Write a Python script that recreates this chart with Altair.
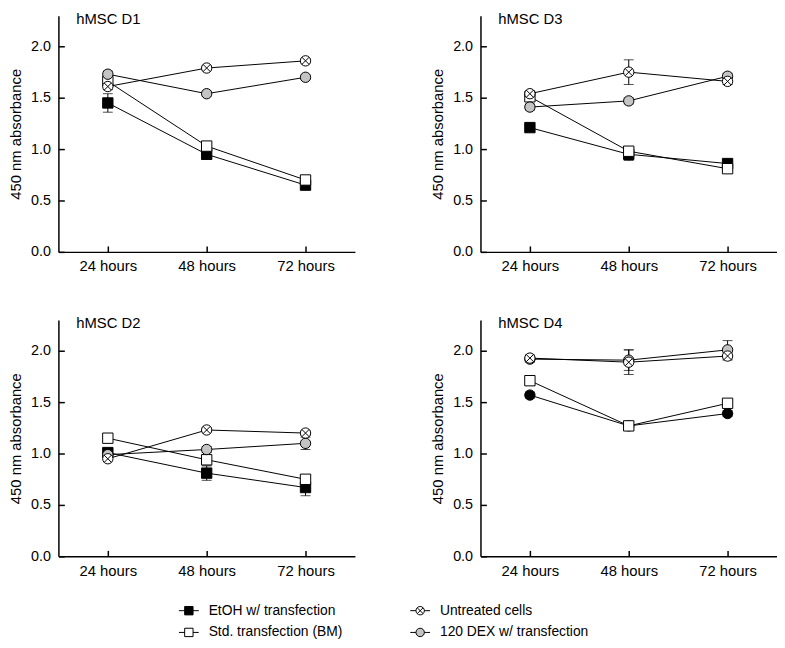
import altair as alt
import pandas as pd

FONT = "Liberation Sans"

times = ["24 hours", "48 hours", "72 hours"]
series = ["EtOH w/ transfection", "Std. transfection (BM)", "Untreated cells", "120 DEX w/ transfection"]
draw_rank = [0, 1, 3, 2]

# hMSC D1
d1_etoh = [1.45, 0.95, 0.65]
d1_std = [1.66, 1.03, 0.70]
d1_untr = [1.61, 1.79, 1.86]
d1_dex = [1.73, 1.54, 1.70]
d1_etoh_err = [0.09, 0.03, 0.03]
d1_std_err = [0.04, 0.03, 0.03]
d1_untr_err = [0.03, 0.02, 0.02]
d1_dex_err = [0.03, 0.02, 0.02]

# hMSC D3
d3_etoh = [1.21, 0.95, 0.86]
d3_std = [1.51, 0.98, 0.81]
d3_untr = [1.54, 1.75, 1.66]
d3_dex = [1.41, 1.47, 1.71]
d3_etoh_err = [0.03, 0.06, 0.03]
d3_std_err = [0.03, 0.04, 0.03]
d3_untr_err = [0.03, 0.12, 0.03]
d3_dex_err = [0.03, 0.03, 0.03]

# hMSC D2
d2_etoh = [1.01, 0.81, 0.67]
d2_std = [1.15, 0.94, 0.75]
d2_untr = [0.95, 1.23, 1.20]
d2_dex = [0.99, 1.04, 1.10]
d2_etoh_err = [0.03, 0.07, 0.08]
d2_std_err = [0.03, 0.05, 0.04]
d2_untr_err = [0.02, 0.02, 0.02]
d2_dex_err = [0.03, 0.03, 0.06]

# hMSC D4
d4_etoh = [1.57, 1.27, 1.39]
d4_std = [1.71, 1.27, 1.49]
d4_untr = [1.93, 1.89, 1.95]
d4_dex = [1.92, 1.91, 2.01]
d4_etoh_err = [0.03, 0.03, 0.03]
d4_std_err = [0.03, 0.03, 0.03]
d4_untr_err = [0.03, 0.12, 0.04]
d4_dex_err = [0.03, 0.10, 0.09]

markers_std = ["sq_black", "sq_white", "xcircle", "circle_gray"]
markers_d4 = ["circle_black", "sq_white", "xcircle", "circle_gray"]

XCIRCLE = ("M-1,0A1,1,0,1,1,1,0A1,1,0,1,1,-1,0Z "
           "M-0.7071,-0.7071L0.7071,0.7071 M-0.7071,0.7071L0.7071,-0.7071")
LINE = "M-1,0L1,0"
kinds = ["sq_black", "sq_white", "xcircle", "circle_gray", "circle_black"]
kind_shapes = ["square", "square", XCIRCLE, "circle", "circle"]
kind_fills = ["black", "white", "white", "#c4c4c4", "black"]
kind_sizes = [110, 110, 150, 150, 150]
legend_sizes = [72, 72, 130, 120, 120]

y_ticks = [0.0, 0.5, 1.0, 1.5, 2.0]
W, H = 300, 239


def panel(name, values, errors, markers):
    rows = []
    for s, vals, errs, mk, z in zip(series, values, errors, markers, draw_rank):
        for t, v, e in zip(times, vals, errs):
            rows.append(dict(series=s, time=t, value=v, lo=v - e, hi=v + e, kind=mk, z=z))
    df = pd.DataFrame(rows)
    base = alt.Chart(df)
    xs = alt.Scale(type="point", domain=times, padding=0.5)
    ys = alt.Scale(domain=[0, 2.3], nice=False, zero=True)

    lines = base.mark_line(color="black", strokeWidth=1).encode(
        x=alt.X("time:N", scale=xs, axis=alt.Axis(
            title=None, labelAngle=0, ticks=False, tickSize=0, labelPadding=7,
            domainColor="black", domainWidth=1.5, labelFontSize=15, labelColor="black",
            labelFont=FONT, grid=False)),
        y=alt.Y("value:Q", scale=ys, axis=alt.Axis(
            values=y_ticks, format=".1f", title="450 nm absorbance", ticks=False, tickSize=0,
            labelPadding=8, domainColor="black", domainWidth=1.5, labelFontSize=14.5,
            labelColor="black", labelFont=FONT, titleFont=FONT, titleFontSize=15,
            titleFontWeight="normal", titleColor="black", titlePadding=7, grid=False)),
        detail="series:N",
    )
    bars = base.mark_rule(color="black", strokeWidth=1).encode(
        x=alt.X("time:N", scale=xs, axis=None),
        y=alt.Y("lo:Q", scale=ys, axis=None),
        y2="hi:Q",
    )
    cap_lo = base.mark_tick(color="black", size=10, thickness=1).encode(
        x=alt.X("time:N", scale=xs, axis=None),
        y=alt.Y("lo:Q", scale=ys, axis=None),
    )
    cap_hi = base.mark_tick(color="black", size=10, thickness=1).encode(
        x=alt.X("time:N", scale=xs, axis=None),
        y=alt.Y("hi:Q", scale=ys, axis=None),
    )
    pts = base.mark_point(filled=False, stroke="black", strokeWidth=1, opacity=1).encode(
        x=alt.X("time:N", scale=xs, axis=alt.Axis(
            orient="top", offset=-H, labels=False, domain=False, ticks=True, tickSize=6,
            tickWidth=1.5, tickColor="black", title=None, grid=False)),
        y=alt.Y("value:Q", scale=ys, axis=alt.Axis(
            orient="right", offset=-W, values=y_ticks, labels=False, domain=False, ticks=True,
            tickSize=6, tickWidth=1.5, tickColor="black", title=None, grid=False)),
        shape=alt.Shape("kind:N", scale=alt.Scale(domain=kinds, range=kind_shapes), legend=None),
        fill=alt.Fill("kind:N", scale=alt.Scale(domain=kinds, range=kind_fills), legend=None),
        size=alt.Size("kind:N", scale=alt.Scale(domain=kinds, range=kind_sizes), legend=None),
        order=alt.Order("z:Q"),
    )
    label = alt.Chart(pd.DataFrame({"label": [name]})).mark_text(
        align="left", baseline="alphabetic", fontSize=15, font=FONT, color="black"
    ).encode(x=alt.value(18), y=alt.value(8.5), text="label:N")
    return alt.layer(lines, bars, cap_lo, cap_hi, pts, label).resolve_axis(
        x="independent", y="independent"
    ).properties(width=W, height=H)


p1 = panel("hMSC D1", [d1_etoh, d1_std, d1_untr, d1_dex],
           [d1_etoh_err, d1_std_err, d1_untr_err, d1_dex_err], markers_std)
p3 = panel("hMSC D3", [d3_etoh, d3_std, d3_untr, d3_dex],
           [d3_etoh_err, d3_std_err, d3_untr_err, d3_dex_err], markers_std)
p2 = panel("hMSC D2", [d2_etoh, d2_std, d2_untr, d2_dex],
           [d2_etoh_err, d2_std_err, d2_untr_err, d2_dex_err], markers_std)
p4 = panel("hMSC D4", [d4_etoh, d4_std, d4_untr, d4_dex],
           [d4_etoh_err, d4_std_err, d4_untr_err, d4_dex_err], markers_d4)

# legend block
leg_cols = [0, 0, 1, 1]
leg_rows = [0, 1, 0, 1]
leg_kinds = ["sq_black", "sq_white", "xcircle", "circle_gray"]
leg_df = pd.DataFrame({"series": series, "col": leg_cols, "row": leg_rows, "lkind": leg_kinds})
lbase = alt.Chart(leg_df)
lx = alt.X("col:Q", scale=alt.Scale(domain=[-0.564, 2.0], nice=False, zero=False), axis=None)
ly = alt.Y("row:Q", scale=alt.Scale(domain=[-0.5, 1.5], nice=False, zero=False, reverse=True), axis=None)
l_line = lbase.mark_point(shape=LINE, size=400, stroke="black", strokeWidth=1, filled=False, opacity=1).encode(x=lx, y=ly)
l_sym = lbase.mark_point(filled=False, stroke="black", strokeWidth=1, opacity=1).encode(
    x=lx, y=ly,
    shape=alt.Shape("lkind:N", scale=alt.Scale(domain=kinds, range=kind_shapes), legend=None),
    fill=alt.Fill("lkind:N", scale=alt.Scale(domain=kinds, range=kind_fills), legend=None),
    size=alt.Size("lkind:N", scale=alt.Scale(domain=kinds, range=legend_sizes), legend=None),
)
l_txt = lbase.mark_text(align="left", baseline="middle", dx=20, fontSize=14, font=FONT, color="black").encode(
    x=lx, y=ly, text="series:N")
legend = alt.layer(l_line, l_sym, l_txt).properties(width=600, height=44)

top = alt.hconcat(p1, p3, spacing=76)
bottom = alt.hconcat(p2, p4, spacing=76)
grid = alt.vconcat(top, bottom, spacing=43)

chart = alt.vconcat(grid, legend, spacing=22).resolve_scale(
    size="independent", shape="independent", fill="independent"
).properties(padding=0).configure(font=FONT).configure_view(strokeWidth=0, stroke="transparent")

chart.save("out.html", embed_options={"renderer": "svg", "actions": False})
